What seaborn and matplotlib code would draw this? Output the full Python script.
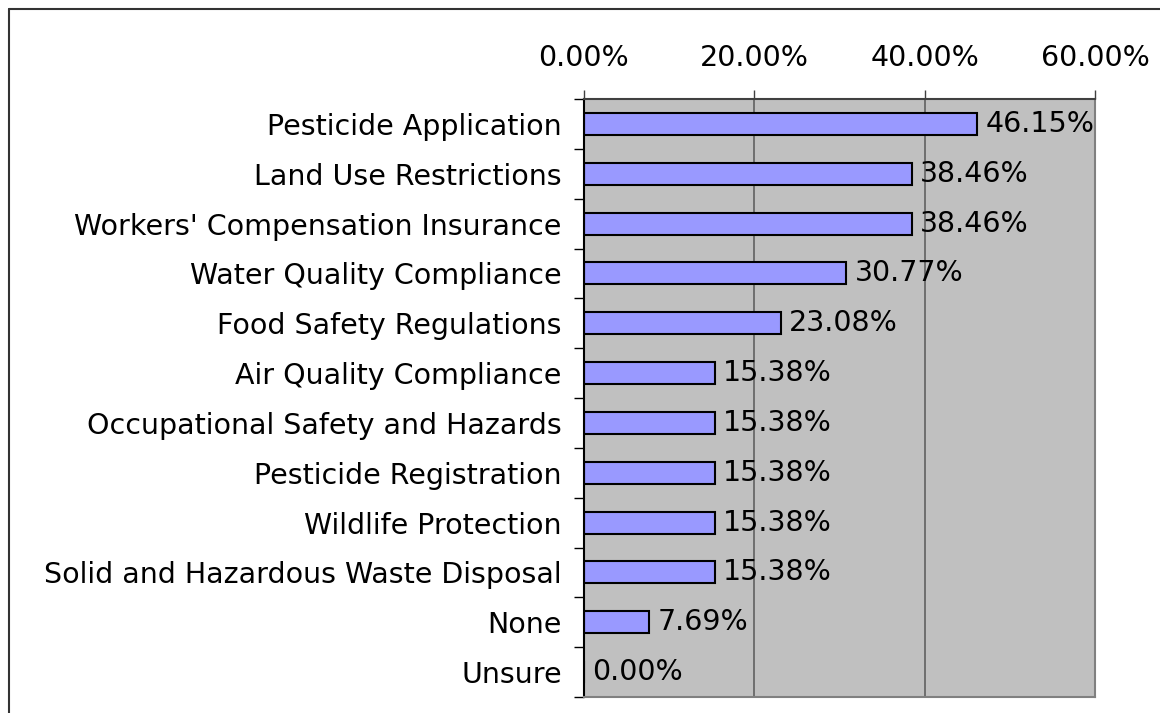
import matplotlib
matplotlib.use('Agg')
import matplotlib.pyplot as plt
from matplotlib.lines import Line2D
import seaborn as sns
import pandas as pd
import numpy as np

categories = [
    "Pesticide Application",
    "Land Use Restrictions",
    "Workers' Compensation Insurance",
    "Water Quality Compliance",
    "Food Safety Regulations",
    "Air Quality Compliance",
    "Occupational Safety and Hazards",
    "Pesticide Registration",
    "Wildlife Protection",
    "Solid and Hazardous Waste Disposal",
    "None",
    "Unsure",
]
values = [46.15, 38.46, 38.46, 30.77, 23.08, 15.38, 15.38, 15.38, 15.38, 15.38, 7.69, 0.00]
x_ticks = [0, 20, 40, 60]
x_tick_labels = ["0.00%", "20.00%", "40.00%", "60.00%"]

sns.set_style("white")
plt.rcParams['font.family'] = ['DejaVu Sans']
FS = 20.5

fig = plt.figure(figsize=(11.6, 7.13), dpi=100)
W, H = 1160, 713
left, right, top, bottom = 584, 1095, 99, 697
ax = fig.add_axes([left / W, 1 - bottom / H, (right - left) / W, (bottom - top) / H])

df = pd.DataFrame({"category": categories, "value": values})
sns.barplot(data=df, x="value", y="category", orient="h", color="#9999FF",
            saturation=1, edgecolor="black", linewidth=1.5, width=0.44, ax=ax)

ax.set_facecolor("#C0C0C0")
ax.set_xlim(0, 60)
ax.set_ylim(11.5, -0.5)
ax.xaxis.tick_top()
ax.xaxis.set_label_position("top")
ax.set_xticks(x_ticks)
ax.set_xticklabels(x_tick_labels)
ax.set_xlabel("")
ax.set_ylabel("")
ax.grid(axis="x", color="#606060", lw=1.2)
ax.grid(axis="y", visible=False)
ax.set_axisbelow(True)

ax.tick_params(axis="x", which="major", top=True, bottom=False, length=6.5, width=1,
               color="#404040", pad=13, labelsize=FS, labelcolor="black")
ax.tick_params(axis="y", which="major", length=0, pad=16, labelsize=FS, labelcolor="black")
ax.set_yticks(np.arange(-0.5, 12, 1), minor=True)
ax.tick_params(axis="y", which="minor", left=True, length=7, width=1, color="black")

for side, col in [("top", "#404040"), ("right", "#808080"), ("bottom", "#808080"), ("left", "black")]:
    ax.spines[side].set_visible(True)
    ax.spines[side].set_color(col)
    ax.spines[side].set_linewidth(1.5)

ax.bar_label(ax.containers[0], labels=[f"{v:.2f}%" for v in values],
             padding=6, fontsize=FS, color="black")

# outer chart frame
fig.add_artist(Line2D([9 / W, 9 / W], [0, 1 - 9 / H], transform=fig.transFigure,
                      color="#333333", lw=1.5))
fig.add_artist(Line2D([9 / W, 1], [1 - 9 / H, 1 - 9 / H], transform=fig.transFigure,
                      color="#333333", lw=1.5))

fig.savefig("out.png", dpi=100)
